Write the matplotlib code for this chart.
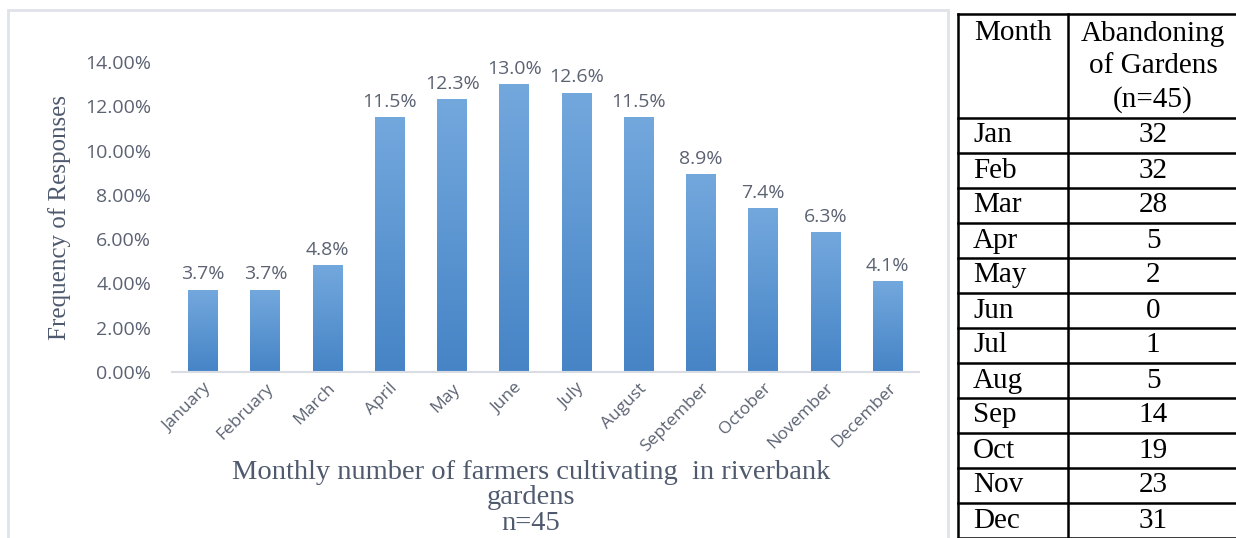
import matplotlib.pyplot as plt
import matplotlib.patches as mpatches
import numpy as np
from matplotlib.colors import LinearSegmentedColormap

# monthly share of farmers cultivating riverbank gardens
months = ['January', 'February', 'March', 'April', 'May', 'June', 'July',
          'August', 'September', 'October', 'November', 'December']
share = [3.7, 3.7, 4.8, 11.5, 12.3, 13.0, 12.6, 11.5, 8.9, 7.4, 6.3, 4.1]
yticks = [0, 2, 4, 6, 8, 10, 12, 14]

# table of gardens abandoned per month
table_months = ['Jan', 'Feb', 'Mar', 'Apr', 'May', 'Jun', 'Jul', 'Aug',
                'Sep', 'Oct', 'Nov', 'Dec']
abandoned = [32, 32, 28, 5, 2, 0, 1, 5, 14, 19, 23, 31]

W, H = 1236, 538
fig = plt.figure(figsize=(W / 100, H / 100), dpi=100)

def fx(px):
    return px / W

def fy(py):
    return 1 - py / H

# light frame round the chart area
fig.add_artist(mpatches.Rectangle((fx(8), fy(560)), fx(940), fy(10) - fy(560),
                                  transform=fig.transFigure, fill=False,
                                  edgecolor='#dfe3ea', linewidth=2))

ax = fig.add_axes([fx(172), fy(372), fx(919) - fx(172), fy(62) - fy(372)])

tick_col = '#5b6272'
cmap = LinearSegmentedColormap.from_list('bar', ['#4684c6', '#73a8dd'])
grad = np.linspace(0, 1, 256).reshape(-1, 1)
bw = 0.48
x = np.arange(len(months))
for xi, v in zip(x, share):
    ax.imshow(grad, extent=(xi - bw / 2, xi + bw / 2, 0, v), origin='lower',
              cmap=cmap, aspect='auto', zorder=2)
    ax.text(xi, v + 0.3, f'{v:.1f}%', ha='center', va='bottom',
            fontsize=14, color=tick_col, family='Open Sans')

ax.set_xlim(-0.5, len(months) - 0.5)
ax.set_ylim(0, 14)
ax.set_yticks(yticks)
ax.set_yticklabels([f'{t:.2f}%' for t in yticks], family='Open Sans',
                   fontsize=14, color=tick_col)
ax.set_xticks(x)
ax.set_xticklabels(months, rotation=45, ha='right', rotation_mode='anchor',
                   family='Open Sans', fontsize=12.5, color=tick_col)
ax.tick_params(length=0)
ax.tick_params(axis='y', pad=15)
ax.tick_params(axis='x', pad=6)
for s in ['top', 'right', 'left']:
    ax.spines[s].set_visible(False)
ax.spines['bottom'].set_color('#d9dde3')
ax.spines['bottom'].set_linewidth(1.5)

label_col = '#4f5a6e'
fig.text(fx(60), fy(217), 'Frequency of Responses', rotation=90,
         ha='center', va='center', family='Liberation Serif', fontsize=18,
         color=label_col)
fig.text(fx(531), fy(460),
         'Monthly number of farmers cultivating  in riverbank\ngardens\nn=45',
         ha='center', va='top', family='Liberation Serif', fontsize=20.5,
         color=label_col, linespacing=1.02)

# table drawn on its own axes
tx0, tx1, tmid = 958, 1240, 1068
row_top, head_bot, row_h = 14, 118, 35
tax = fig.add_axes([0, 0, 1, 1])
tax.set_xlim(0, W)
tax.set_ylim(H, 0)
tax.axis('off')
tfont = dict(family='Liberation Serif', fontsize=21, color='black')
lw = 1.8
n = len(table_months)
bottom = head_bot + n * row_h
tax.plot([tx0, tx1], [row_top, row_top], color='black', lw=lw)
for i in range(n + 1):
    yy = head_bot + i * row_h
    tax.plot([tx0, tx1], [yy, yy], color='black', lw=lw)
tax.plot([tx0, tx0], [row_top, bottom + 5], color='black', lw=lw)
tax.plot([tmid, tmid], [row_top, bottom + 5], color='black', lw=lw)

tax.text(974, 33, 'Month', ha='left', va='center', **tfont)
tax.text(1153, 67, 'Abandoning\nof Gardens\n(n=45)', ha='center',
         va='center', linespacing=1.3, **tfont)
for i, (m, v) in enumerate(zip(table_months, abandoned)):
    yc = head_bot + i * row_h + row_h / 2
    tax.text(973, yc, m, ha='left', va='center', **tfont)
    tax.text(1153, yc, str(v), ha='center', va='center', **tfont)

plt.savefig('out.png', dpi=100)
